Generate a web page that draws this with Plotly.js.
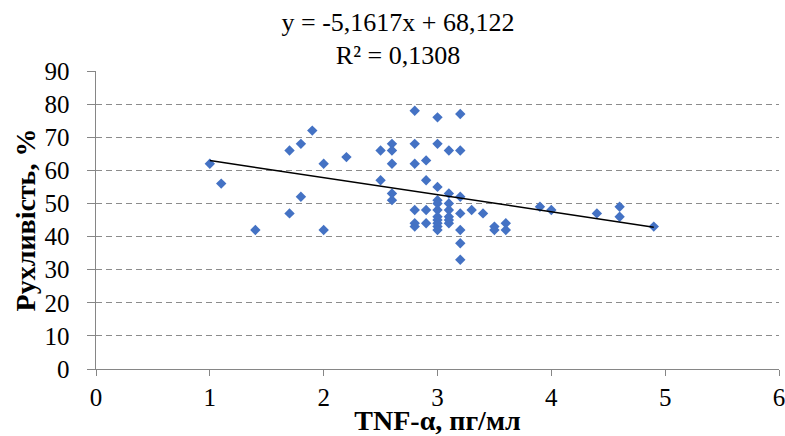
<!DOCTYPE html>
<html>
<head>
<meta charset="utf-8">
<script src="https://cdn.plot.ly/plotly-3.0.1.min.js"></script>
<style>html,body{margin:0;padding:0;background:#fff}#chart{width:785px;height:436px}</style>
</head>
<body>
<div id="chart"></div>
<script>
const tnfAlpha = [1.0, 1.1, 1.4, 1.7, 1.7, 1.8, 1.8, 1.9, 2.0, 2.0, 2.2, 2.5, 2.5,
  2.6, 2.6, 2.6, 2.6, 2.6,
  2.8, 2.8, 2.8, 2.8, 2.8, 2.8,
  2.9, 2.9, 2.9, 2.9,
  3.0, 3.0, 3.0, 3.0, 3.0, 3.0, 3.0, 3.0, 3.0, 3.0, 3.0,
  3.1, 3.1, 3.1, 3.1, 3.1, 3.1, 3.1,
  3.2, 3.2, 3.2, 3.2, 3.2, 3.2, 3.2,
  3.3, 3.4, 3.5, 3.5, 3.6, 3.6, 3.9, 4.0, 4.4, 4.6, 4.6, 4.9];
const motility = [62, 56, 42, 66, 47, 68, 52, 72, 62, 42, 64, 66, 57,
  68, 66, 62, 53, 51,
  78, 68, 62, 48, 44, 43,
  63, 57, 48, 44,
  76, 68, 55, 51, 50, 48, 46, 45, 44, 43, 42,
  66, 53, 50, 48, 46, 45, 44,
  77, 66, 52, 47, 42, 38, 33,
  48, 47, 43, 42, 44, 42, 49, 48, 47, 49, 46, 43];
const slope = -5.1617;
const intercept = 68.122;
const equationText = 'y = -5,1617x + 68,122';
const r2Text = 'R² = 0,1308';
const trendX = [Math.min(...tnfAlpha), Math.max(...tnfAlpha)];
const trendY = trendX.map(x => slope * x + intercept);
const xTicks = [0, 1, 2, 3, 4, 5, 6];
const yTicks = [0, 10, 20, 30, 40, 50, 60, 70, 80, 90];

const serif = '"Liberation Serif", "Times New Roman", serif';

const data = [
  {x: tnfAlpha, y: motility, type: 'scatter', mode: 'markers',
   marker: {symbol: 'diamond', size: 8, color: '#4472C4'}, hoverinfo: 'x+y'},
  {x: trendX, y: trendY, type: 'scatter', mode: 'lines',
   line: {color: '#000000', width: 1.5}, hoverinfo: 'skip'}
];

const layout = {
  width: 785, height: 436,
  margin: {l: 96, r: 6, t: 71, b: 67},
  showlegend: false,
  paper_bgcolor: '#ffffff', plot_bgcolor: '#ffffff',
  font: {family: serif, size: 24, color: '#000000'},
  title: {text: equationText + '<br>' + r2Text, xref: 'container', x: 0.507, xanchor: 'center',
          yref: 'container', y: 0.930, yanchor: 'middle',
          font: {family: serif, size: 26, color: '#000000'}},
  xaxis: {range: [0, 6], tickvals: xTicks, ticktext: xTicks.map(String),
          showgrid: false, zeroline: false, showline: true, linecolor: '#868686', linewidth: 1,
          ticks: 'outside', ticklen: 6, tickcolor: '#868686', ticklabelstandoff: 0,
          ticklabeloverflow: 'allow',
          tickfont: {family: serif, size: 25, color: '#000000'},
          title: {text: 'TNF-α, пг/мл', standoff: 0,
                  font: {family: serif, size: 28, color: '#000000', weight: 'bold'}}},
  yaxis: {range: [0, 90], tickvals: yTicks, ticktext: yTicks.map(v => v + '\u00a0\u00a0'),
          showgrid: true, gridcolor: '#8c8c8c', griddash: '6px,4px', gridwidth: 1,
          zeroline: false, showline: true, linecolor: '#868686', linewidth: 1,
          ticks: 'outside', ticklen: 8, tickcolor: '#868686',
          ticklabeloverflow: 'allow',
          tickfont: {family: serif, size: 25, color: '#000000'},
          title: {text: 'Рухливість, %', standoff: 0,
                  font: {family: serif, size: 28, color: '#000000', weight: 'bold'}}}
};

Plotly.newPlot('chart', data, layout, {displayModeBar: false, staticPlot: true});
</script>
</body>
</html>
